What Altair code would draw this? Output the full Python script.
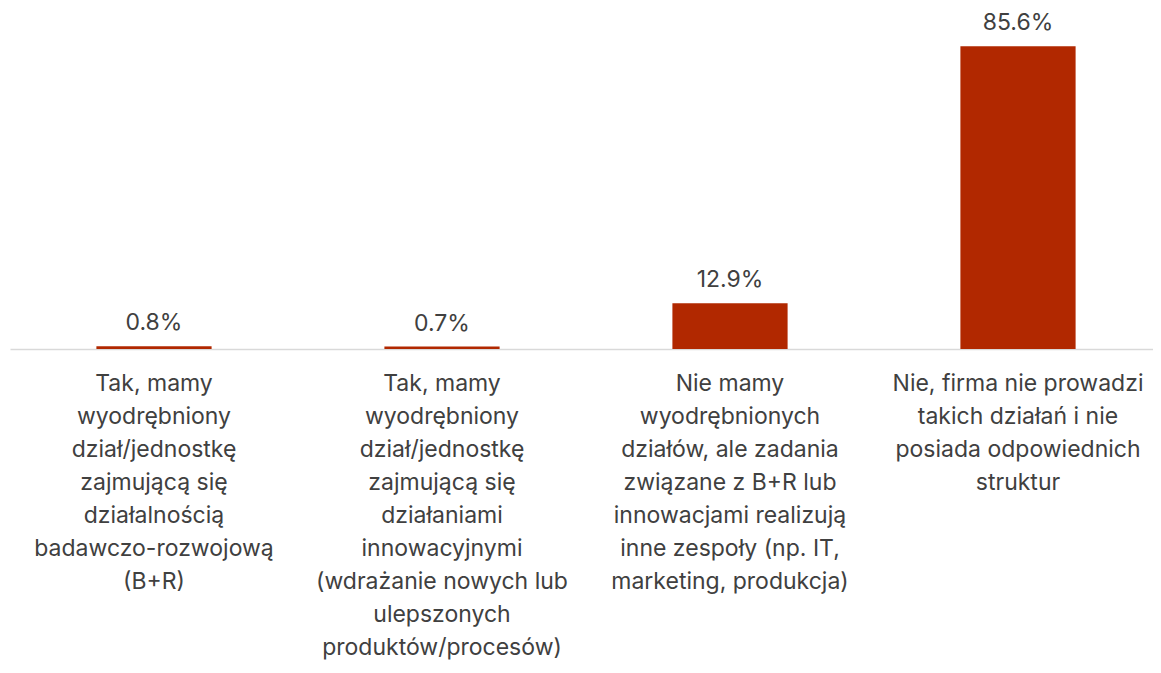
import altair as alt
import pandas as pd

categories = [
    "Tak, mamy|wyodrębniony|dział/jednostkę|zajmującą się|działalnością|badawczo-rozwojową|(B+R)",
    "Tak, mamy|wyodrębniony|dział/jednostkę|zajmującą się|działaniami|innowacyjnymi|(wdrażanie nowych lub|ulepszonych|produktów/procesów)",
    "Nie mamy|wyodrębnionych|działów, ale zadania|związane z B+R lub|innowacjami realizują|inne zespoły (np. IT,|marketing, produkcja)",
    "Nie, firma nie prowadzi|takich działań i nie|posiada odpowiednich|struktur",
]
values = [0.8, 0.7, 12.9, 85.6]

df = pd.DataFrame({"cat": categories, "value": values})

FONT = "Inter"
TEXT_COLOR = "#404040"
BAR_COLOR = "#B12800"

x = alt.X(
    "cat:N",
    sort=categories,
    title=None,
    scale=alt.Scale(paddingInner=0.6, paddingOuter=0.3, range=[0, 1152]),
    axis=alt.Axis(
        labelExpr="split(datum.label, '|')",
        labelAngle=0,
        labelAlign="center",
        labelBaseline="top",
        labelFontSize=23,
        labelFont=FONT,
        labelColor=TEXT_COLOR,
        labelLineHeight=33,
        labelLimit=500,
        labelPadding=23,
        ticks=False,
        domainColor="#d9d9d9",
        domainWidth=1.5,
        grid=False,
    ),
)
y = alt.Y("value:Q", title=None, scale=alt.Scale(domain=[0, 95]), axis=None)

bars = alt.Chart(df).mark_bar(color=BAR_COLOR).encode(x=x, y=y)
labels = (
    alt.Chart(df)
    .transform_calculate(lbl="format(datum.value, '.1f') + '%'")
    .mark_text(baseline="bottom", dy=-11, fontSize=23, font=FONT, color=TEXT_COLOR)
    .encode(x=x, y=y, text="lbl:N")
)

chart = (
    alt.layer(bars, labels)
    .properties(
        width=1143,
        height=336,
        autosize="none",
        padding={"left": 2, "top": 5, "right": 0, "bottom": 312},
    )
    .configure_view(stroke=None)
)

chart.save("out.html", embed_options={"renderer": "svg", "actions": False})
